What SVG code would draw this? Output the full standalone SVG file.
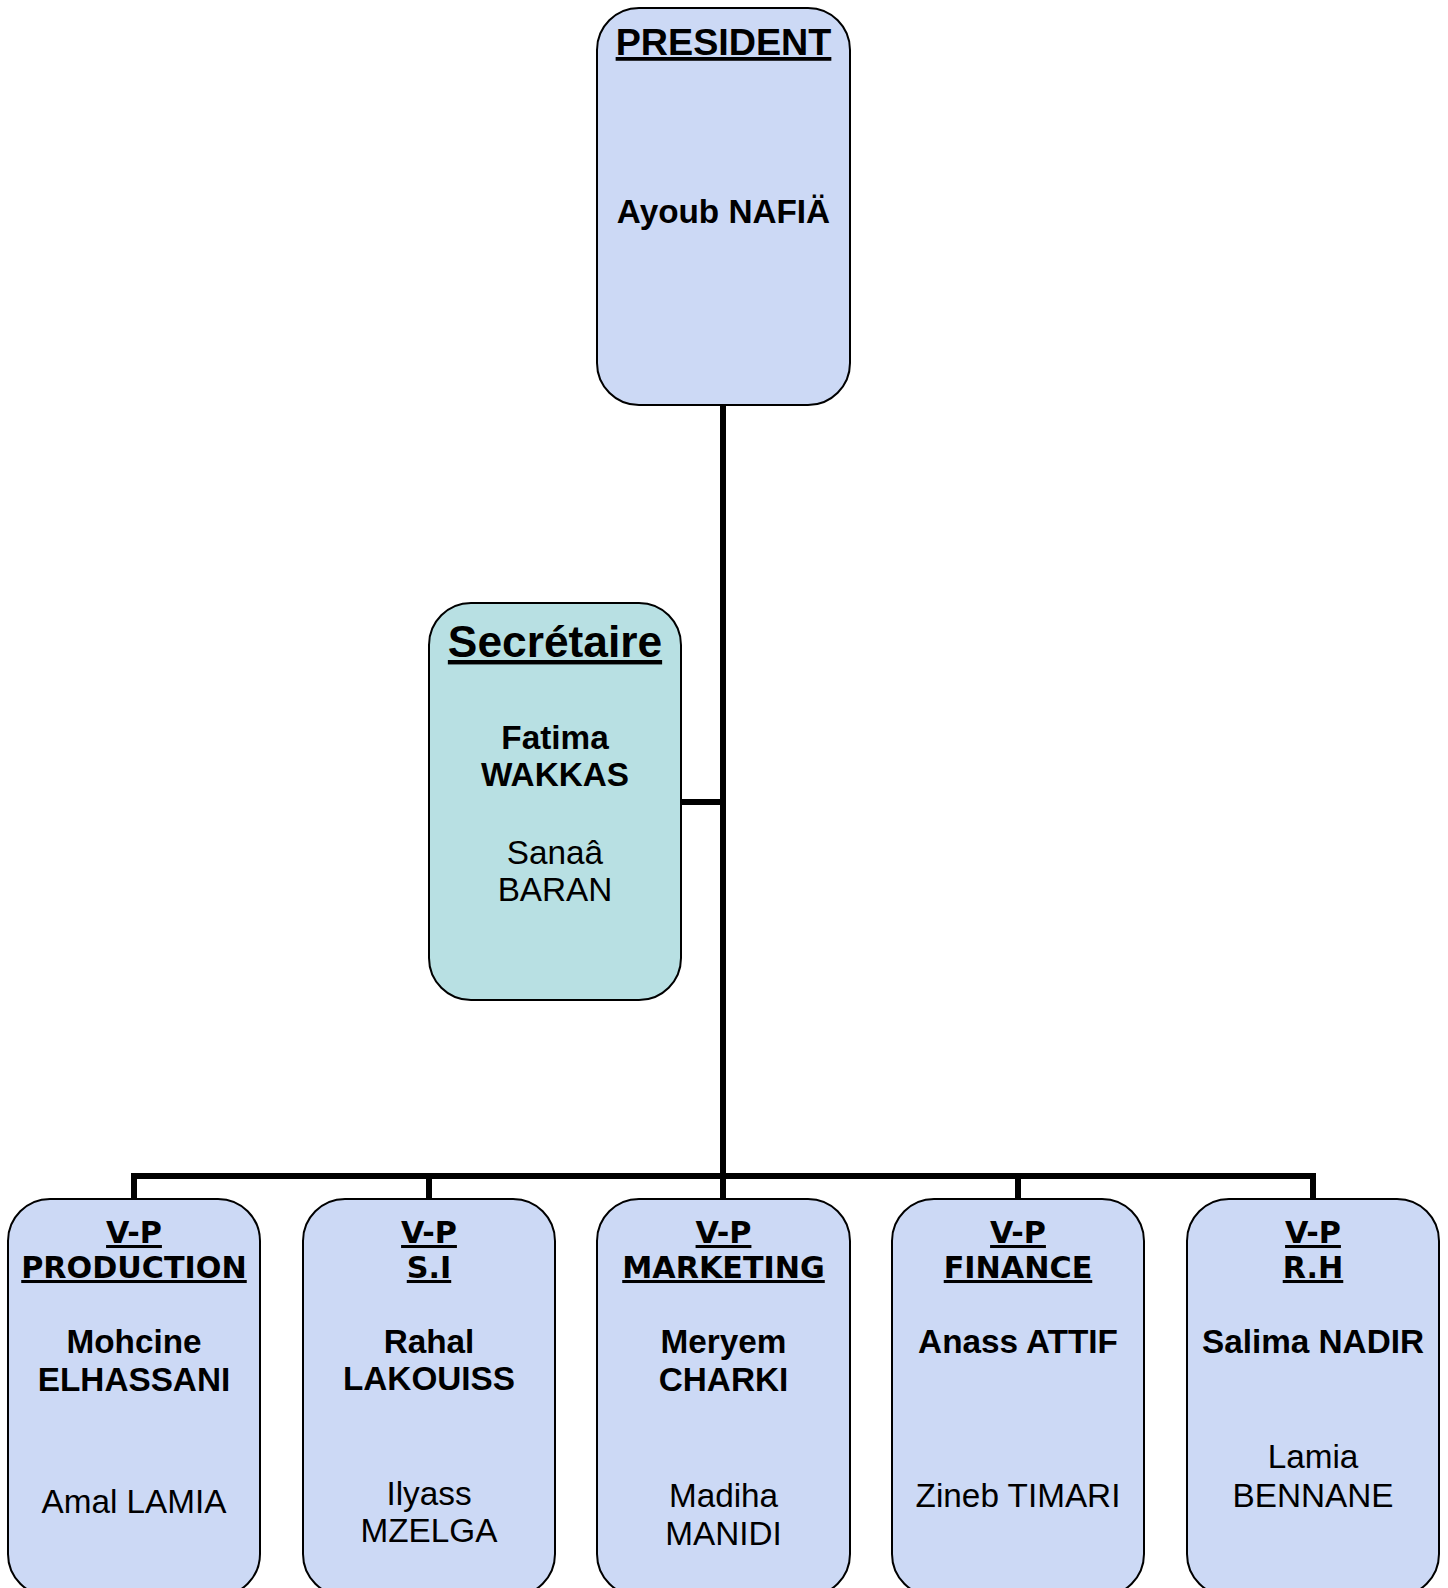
<svg xmlns="http://www.w3.org/2000/svg" width="1448" height="1588" viewBox="0 0 1448 1588">
<style>
.box{fill:#CCD9F5;stroke:#000;stroke-width:2}
.sec{fill:#B8E0E3;stroke:#000;stroke-width:2}
.ln{stroke:#000;stroke-width:6;fill:none}
.t{font-family:"Liberation Sans",Arial,sans-serif;fill:#000;text-anchor:middle}
.b{font-weight:bold}
.nm{font-size:33.3px}
.vp{font-family:"DejaVu Sans",Verdana,sans-serif;font-weight:bold;font-size:30.2px;fill:#000;text-anchor:middle;text-decoration:underline}
.ul{text-decoration:underline}
</style>
<rect width="1448" height="1588" fill="#fff"/>
<g id="connectors">
<line class="ln" x1="723" y1="405" x2="723" y2="1176"/>
<line class="ln" x1="681" y1="802" x2="723" y2="802"/>
<polyline class="ln" points="134,1199 134,1176 1313,1176 1313,1199"/>
<line class="ln" x1="429" y1="1176" x2="429" y2="1199"/>
<line class="ln" x1="723" y1="1176" x2="723" y2="1199"/>
<line class="ln" x1="1018" y1="1176" x2="1018" y2="1199"/>
</g>
<g id="president">
<rect class="box" x="597" y="8" width="253" height="397" rx="42"/>
<text class="t b ul" x="723.5" y="55" font-size="37.7">PRESIDENT</text>
<text class="t b nm" x="723.5" y="223">Ayoub NAFIÄ</text>
</g>
<g id="secretaire">
<rect class="sec" x="429" y="603" width="252" height="397" rx="42"/>
<text class="t b ul" x="555" y="657" font-size="44.3">Secrétaire</text>
<text class="t b nm" x="555" y="749">Fatima</text>
<text class="t b nm" x="555" y="786">WAKKAS</text>
<text class="t nm" x="555" y="864">Sanaâ</text>
<text class="t nm" x="555" y="901">BARAN</text>
</g>
<g id="vp-production">
<rect class="box" x="8" y="1199" width="252" height="397" rx="42"/>
<text class="vp" x="134" y="1243">V-P</text>
<text class="vp" x="134" y="1278">PRODUCTION</text>
<text class="t b nm" x="134" y="1353">Mohcine</text>
<text class="t b nm" x="134" y="1391">ELHASSANI</text>
<text class="t nm" x="134" y="1513">Amal LAMIA</text>
</g>
<g id="vp-si">
<rect class="box" x="303" y="1199" width="252" height="397" rx="42"/>
<text class="vp" x="429" y="1243">V-P</text>
<text class="vp" x="429" y="1278">S.I</text>
<text class="t b nm" x="429" y="1353">Rahal</text>
<text class="t b nm" x="429" y="1390">LAKOUISS</text>
<text class="t nm" x="429" y="1505">Ilyass</text>
<text class="t nm" x="429" y="1542">MZELGA</text>
</g>
<g id="vp-marketing">
<rect class="box" x="597" y="1199" width="253" height="397" rx="42"/>
<text class="vp" x="723.5" y="1243">V-P</text>
<text class="vp" x="723.5" y="1278">MARKETING</text>
<text class="t b nm" x="723.5" y="1353">Meryem</text>
<text class="t b nm" x="723.5" y="1391">CHARKI</text>
<text class="t nm" x="723.5" y="1507">Madiha</text>
<text class="t nm" x="723.5" y="1545">MANIDI</text>
</g>
<g id="vp-finance">
<rect class="box" x="892" y="1199" width="252" height="397" rx="42"/>
<text class="vp" x="1018" y="1243">V-P</text>
<text class="vp" x="1018" y="1278">FINANCE</text>
<text class="t b nm" x="1018" y="1353">Anass ATTIF</text>
<text class="t nm" x="1018" y="1507">Zineb TIMARI</text>
</g>
<g id="vp-rh">
<rect class="box" x="1187" y="1199" width="252" height="397" rx="42"/>
<text class="vp" x="1313" y="1243">V-P</text>
<text class="vp" x="1313" y="1278">R.H</text>
<text class="t b nm" x="1313" y="1353">Salima NADIR</text>
<text class="t nm" x="1313" y="1468">Lamia</text>
<text class="t nm" x="1313" y="1507">BENNANE</text>
</g>
</svg>
